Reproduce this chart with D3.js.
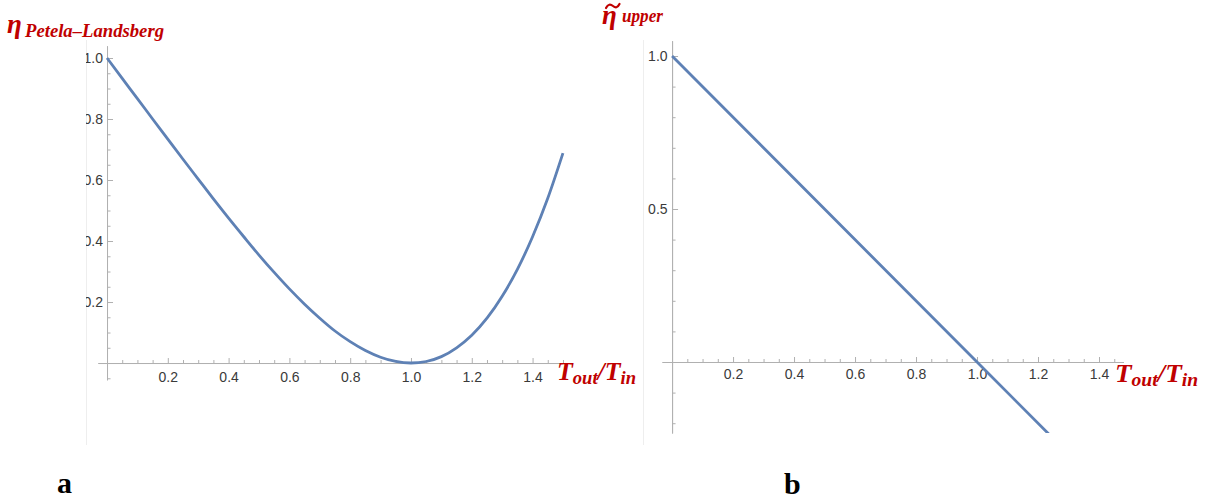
<!DOCTYPE html>
<html>
<head>
<meta charset="utf-8">
<script src="https://cdn.jsdelivr.net/npm/d3@7"></script>
<style>
  html, body { margin: 0; padding: 0; background: #fff; }
  svg { display: block; }
  .tick text { font-family: "Liberation Sans", Arial, sans-serif; fill: #3a3a3a; }
  .red { font-family: "Liberation Serif", "DejaVu Serif", serif; font-weight: bold; font-style: italic; fill: #c00000; }
</style>
</head>
<body>
<svg id="chart" width="1210" height="504"></svg>
<script>
// Panel a: Petela–Landsberg efficiency against Tout/Tin
const ratioA = [0, 0.05, 0.1, 0.15, 0.2, 0.25, 0.3, 0.35, 0.4, 0.45, 0.5, 0.55, 0.6, 0.65, 0.7, 0.75,
                0.8, 0.85, 0.9, 0.95, 1.0, 1.05, 1.1, 1.15, 1.2, 1.25, 1.3, 1.35, 1.4, 1.45, 1.5];
const etaPL = [1.0, 0.933, 0.867, 0.800, 0.734, 0.668, 0.603, 0.538, 0.475, 0.414, 0.354, 0.297,
               0.243, 0.193, 0.147, 0.105, 0.070, 0.041, 0.019, 0.005, 0.0, 0.005, 0.021, 0.050,
               0.091, 0.147, 0.219, 0.307, 0.414, 0.540, 0.688];

// Panel b: upper efficiency bound against Tout/Tin
const ratioB = [0, 0.5, 1.0, 1.5];
const etaUpper = [1.0, 0.5, 0.0, -0.5];

// Tick values
const xMajorTicks = [0.2, 0.4, 0.6, 0.8, 1.0, 1.2, 1.4];
const yMajorTicksA = [0.2, 0.4, 0.6, 0.8, 1.0];
const yMajorTicksB = [0.5, 1.0];

const svg = d3.select("#chart");
const defs = svg.append("defs");
const lineColor = "#5e81b5";
const axisColor = "#b0b0b0";
const titleRed = "#c00000";

function styleAxis(g) {
  g.select(".domain").attr("stroke", axisColor).attr("stroke-width", 1);
  g.selectAll(".tick line").attr("stroke", axisColor).attr("stroke-width", 1);
}

function drawPanel(p) {
  const g = svg.append("g");
  const x = d3.scaleLinear().domain(p.xDomain).range(p.xRange);
  const y = d3.scaleLinear().domain(p.yDomain).range(p.yRange);

  // faint frame edge of the plot image
  g.append("line")
    .attr("x1", p.edgeX).attr("x2", p.edgeX)
    .attr("y1", p.edgeY[0]).attr("y2", p.edgeY[1])
    .attr("stroke", "#eeeeee").attr("stroke-width", 1);

  // minor ticks (x)
  const xMinor = d3.range(0.05, p.xDomain[1], 0.05)
    .filter(v => !xMajorTicks.some(m => Math.abs(m - v) < 1e-6));
  g.append("g").attr("transform", `translate(0,${y(0)})`)
    .call(d3.axisBottom(x).tickValues(xMinor).tickSizeInner(-3).tickSizeOuter(0).tickFormat(""))
    .call(styleAxis);
  // major ticks (x)
  g.append("g").attr("transform", `translate(0,${y(0)})`)
    .call(d3.axisBottom(x).tickValues(xMajorTicks).tickSizeInner(-5).tickSizeOuter(0)
      .tickPadding(p.xPad).tickFormat(d3.format(".1f")))
    .call(styleAxis)
    .call(a => a.selectAll(".tick text").attr("font-size", 14));

  // minor ticks (y)
  const yMinor = d3.range(Math.ceil(p.yDomain[0] / p.yMinorStep) * p.yMinorStep, p.yDomain[1], p.yMinorStep)
    .filter(v => Math.abs(v) > 1e-6 && !p.yMajor.some(m => Math.abs(m - v) < 1e-6));
  g.append("g").attr("transform", `translate(${x(0)},0)`)
    .call(d3.axisLeft(y).tickValues(yMinor).tickSizeInner(-3.5).tickSizeOuter(0).tickFormat(""))
    .call(styleAxis);

  // major ticks (y); labels cropped at the plot image's left edge
  const yClip = "yclip-" + p.id;
  defs.append("clipPath").attr("id", yClip)
    .append("rect").attr("x", p.labelClipX - x(0)).attr("y", 0).attr("width", 400).attr("height", 504);
  g.append("g").attr("transform", `translate(${x(0)},0)`)
    .attr("clip-path", `url(#${yClip})`)
    .call(d3.axisLeft(y).tickValues(p.yMajor).tickSizeInner(-6).tickSizeOuter(0)
      .tickPadding(p.yPad).tickFormat(d3.format(".1f")))
    .call(styleAxis)
    .call(a => a.selectAll(".tick text").attr("font-size", p.yFont));

  // data line, clipped to the plot range
  const plotClip = "plot-" + p.id;
  defs.append("clipPath").attr("id", plotClip)
    .append("rect")
    .attr("x", p.xRange[0]).attr("y", p.yRange[1])
    .attr("width", p.xRange[1] - p.xRange[0]).attr("height", p.yRange[0] - p.yRange[1]);

  const line = d3.line().x(d => x(d[0])).y(d => y(d[1])).curve(p.curve);
  g.append("path")
    .datum(p.xs.map((v, i) => [v, p.ys[i]]))
    .attr("clip-path", `url(#${plotClip})`)
    .attr("fill", "none")
    .attr("stroke", lineColor)
    .attr("stroke-width", 2.8)
    .attr("stroke-linejoin", "round")
    .attr("d", line);
}

drawPanel({
  id: "a",
  xDomain: [-0.03, 1.51], xRange: [97.9, 566],
  yDomain: [-0.055, 1.04], yRange: [379.8, 45.8],
  yMajor: yMajorTicksA, yMinorStep: 0.05, xPad: 9, yPad: 4, yFont: 14,
  edgeX: 86.5, edgeY: [40, 445], labelClipX: 86,
  xs: ratioA, ys: etaPL, curve: d3.curveMonotoneX
});

drawPanel({
  id: "b",
  xDomain: [-0.033, 1.48], xRange: [662, 1123.4],
  yDomain: [-0.232, 1.05], yRange: [433, 40.7],
  yMajor: yMajorTicksB, yMinorStep: 0.1, xPad: 7, yPad: 4.5, yFont: 14,
  edgeX: 643.5, edgeY: [40, 445], labelClipX: 600,
  xs: ratioB, ys: etaUpper, curve: d3.curveLinear
});

// Axis titles
const red = svg.append("g");
red.append("text").attr("class", "red").attr("x", 7).attr("y", 33).attr("font-size", 27).text("η");
red.append("text").attr("class", "red").attr("x", 25).attr("y", 37).attr("font-size", 18)
  .attr("textLength", 139).attr("lengthAdjust", "spacingAndGlyphs").text("Petela–Landsberg");

red.append("text").attr("class", "red").attr("x", 602).attr("y", 24).attr("font-size", 27).text("η");
// tilde accent over the eta
red.append("path")
  .attr("d", "M606,8 C608,4 610.5,4 613,6 S617.5,8 619.5,4")
  .attr("fill", "none").attr("stroke", titleRed).attr("stroke-width", 2.2).attr("stroke-linecap", "round");
red.append("text").attr("class", "red").attr("x", 622).attr("y", 22).attr("font-size", 19)
  .attr("textLength", 41).attr("lengthAdjust", "spacingAndGlyphs").text("upper");

function ratioTitle(x0, yb, width) {
  const t = red.append("text").attr("class", "red").attr("x", x0).attr("y", yb)
    .attr("textLength", width).attr("lengthAdjust", "spacingAndGlyphs");
  t.append("tspan").attr("font-size", 25).text("T");
  t.append("tspan").attr("font-size", 18).attr("dy", 4).text("out");
  t.append("tspan").attr("font-size", 25).attr("dy", -4).text("/T");
  t.append("tspan").attr("font-size", 18).attr("dy", 4).text("in");
}
ratioTitle(557, 380, 79);
ratioTitle(1115, 382, 83);

// Panel letters
svg.append("text").attr("x", 57).attr("y", 493)
  .attr("font-family", "Liberation Serif, serif").attr("font-weight", "bold").attr("font-size", 30).text("a");
svg.append("text").attr("x", 784).attr("y", 494)
  .attr("font-family", "Liberation Serif, serif").attr("font-weight", "bold").attr("font-size", 30).text("b");
</script>
</body>
</html>
